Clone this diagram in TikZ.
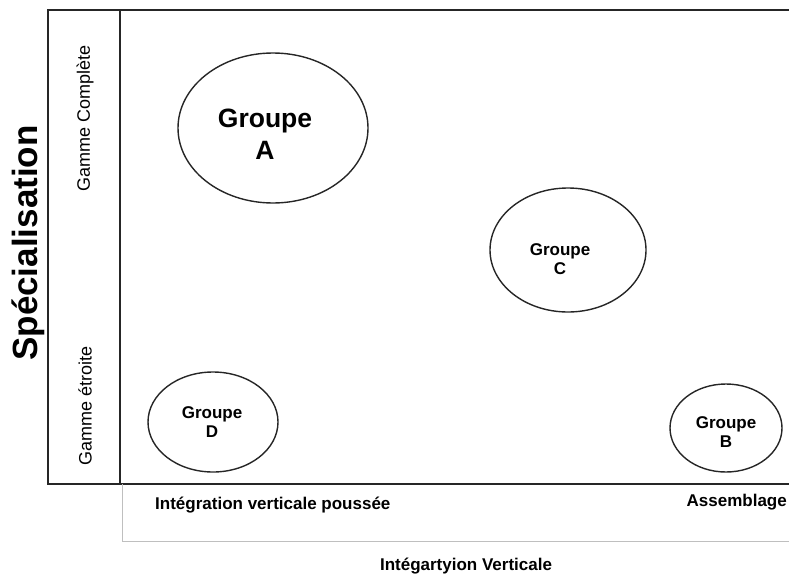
\documentclass[tikz,border=0pt]{standalone}
\usepackage{fontspec}
\setmainfont{Liberation Sans}
\usetikzlibrary{shapes.geometric}
\begin{document}
\begin{tikzpicture}[x=1pt,y=-1pt,
  frameline/.style={line width=2pt, draw=black!85},
  guideline/.style={line width=1pt, draw=black!25},
  grp/.style={ellipse, draw=black!85, line width=1.4pt, inner sep=0pt},
  grptext/.style={align=center, inner sep=0pt, font=\fontsize{17}{19}\selectfont\bfseries},
  axistext/.style={inner sep=0pt, font=\fontsize{17}{20}\selectfont\bfseries},
  rangetext/.style={rotate=90, inner sep=0pt, font=\fontsize{18}{20}\selectfont}]
\useasboundingbox (0,0) rectangle (789,573);

% frame corners
\coordinate (tl) at (48,10);
\coordinate (tr) at (789,10);
\coordinate (bl) at (48,484);
\coordinate (br) at (789,484);
\coordinate (st) at (120,10);
\coordinate (sb) at (120,484);
\coordinate (gt) at (122,484);
\coordinate (gb) at (122,541);
\coordinate (gr) at (789,541);

% outer frame, open on the right, and the separator of the range column
\draw[frameline] (tr) -- (tl) -- (bl) -- (br);
\draw[frameline] (st) -- (sb);
% light box under the horizontal axis
\draw[guideline] (gt) -- (gb) -- (gr);

% axis titles
\node[rotate=90, inner sep=0pt, font=\fontsize{35}{40}\selectfont\bfseries] (spec) at (28,243) {Spécialisation};
\node[rangetext] (full) at (85,118) {Gamme Complète};
\node[rangetext] (narrow) at (85,406) {Gamme étroite};
\node[axistext, anchor=west] (integ) at (155,505) {Intégration verticale poussée};
\node[axistext, anchor=east] (assem) at (787,502) {Assemblage};
\node[axistext] (vert) at (466,566) {Intégartyion Verticale};

% groups
\node[grp, minimum width=190pt, minimum height=150pt] (ga) at (273,128) {};
\node[grptext, font=\fontsize{26.5}{32}\selectfont\bfseries] (ta) at (265,134) {Groupe\\A};
\node[grp, minimum width=156pt, minimum height=124pt] (gc) at (568,250) {};
\node[grptext] (tc) at (560,259) {Groupe\\C};
\node[grp, minimum width=130pt, minimum height=100pt] (gd) at (213,422) {};
\node[grptext] (td) at (212,422) {Groupe\\D};
\node[grp, minimum width=112pt, minimum height=88pt] (gb2) at (726,428) {};
\node[grptext] (tb) at (726,432) {Groupe\\B};
\end{tikzpicture}
\end{document}
